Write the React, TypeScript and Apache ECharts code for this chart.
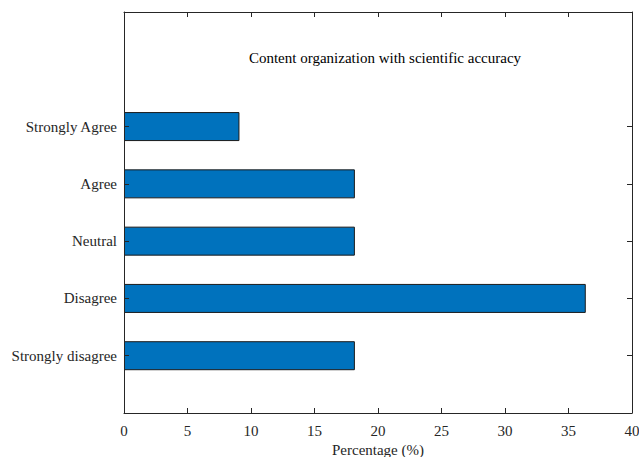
import React, { useEffect, useRef } from "react";
import * as echarts from "echarts";

const categories = ["", "Strongly disagree", "Disagree", "Neutral", "Agree", "Strongly Agree", "", ""];
const values: (number | null)[] = [null, 18.18, 36.36, 18.18, 18.18, 9.09, null, null];
const xTicks = [0, 5, 10, 15, 20, 25, 30, 35, 40];
const yTickPositions = [1, 2, 3, 4, 5];
const titleText = "Content organization with scientific accuracy";
const xName = "Percentage (%)";

const FONT = "'Liberation Serif', 'DejaVu Serif', serif";
const AX = "#262626";
const FS = 15;

export default function App() {
  const ref = useRef<HTMLDivElement>(null);
  useEffect(() => {
    if (!ref.current) return;
    const chart = echarts.init(ref.current, null, { renderer: "svg" });
    const yMax = categories.length - 1;
    const valueY = (position: "left" | "right", labels: boolean) => ({
      type: "value",
      min: 0,
      max: yMax,
      position,
      z: 5,
      axisLine: { show: true, onZero: false, lineStyle: { color: AX, width: 1 } },
      axisTick: { show: true, inside: true, length: 5, customValues: yTickPositions, lineStyle: { color: AX } },
      axisLabel: labels
        ? {
            show: true,
            customValues: yTickPositions,
            fontFamily: FONT,
            fontSize: FS,
            color: "#262626",
            margin: 7,
            formatter: (v: number) => categories[Math.round(v)] ?? "",
          }
        : { show: false },
      splitLine: { show: false },
    });
    chart.setOption({
      animation: false,
      grid: { left: 124, right: 7, top: 12, bottom: 44, containLabel: false, outerBoundsMode: "none" },
      graphic: [
        {
          type: "text",
          x: 385,
          y: 58,
          style: { text: titleText, font: `${FS}px ${FONT}`, fill: "#000", textAlign: "center", textVerticalAlign: "middle" },
        },
      ],
      xAxis: [
        {
          type: "value",
          min: xTicks[0],
          max: xTicks[xTicks.length - 1],
          interval: 5,
          position: "bottom",
          z: 5,
          name: xName,
          nameLocation: "middle",
          nameGap: 24,
          nameTextStyle: { fontFamily: FONT, fontSize: FS, color: "#262626" },
          axisLine: { show: true, onZero: false, lineStyle: { color: AX, width: 1 } },
          axisTick: { show: true, inside: true, length: 5, lineStyle: { color: AX } },
          axisLabel: { fontFamily: FONT, fontSize: FS, color: "#262626", margin: 10 },
          splitLine: { show: false },
        },
        {
          type: "value",
          min: xTicks[0],
          max: xTicks[xTicks.length - 1],
          interval: 5,
          position: "top",
          z: 5,
          axisLine: { show: true, onZero: false, lineStyle: { color: AX, width: 1 } },
          axisTick: { show: true, inside: true, length: 5, lineStyle: { color: AX } },
          axisLabel: { show: false },
          splitLine: { show: false },
        },
      ],
      yAxis: [
        {
          type: "category",
          data: categories,
          boundaryGap: false,
          show: false,
        },
        valueY("left", true),
        valueY("right", false),
      ],
      series: [
        {
          type: "bar",
          xAxisIndex: 0,
          yAxisIndex: 0,
          data: values,
          barWidth: 29,
          itemStyle: { color: "#0072BD", borderColor: "#1a1a1a", borderWidth: 1 },
        },
      ],
    });
    return () => chart.dispose();
  }, []);
  return <div ref={ref} style={{ position: "absolute", left: 0, top: 0, width: 639, height: 457, background: "#fff" }} />;
}
